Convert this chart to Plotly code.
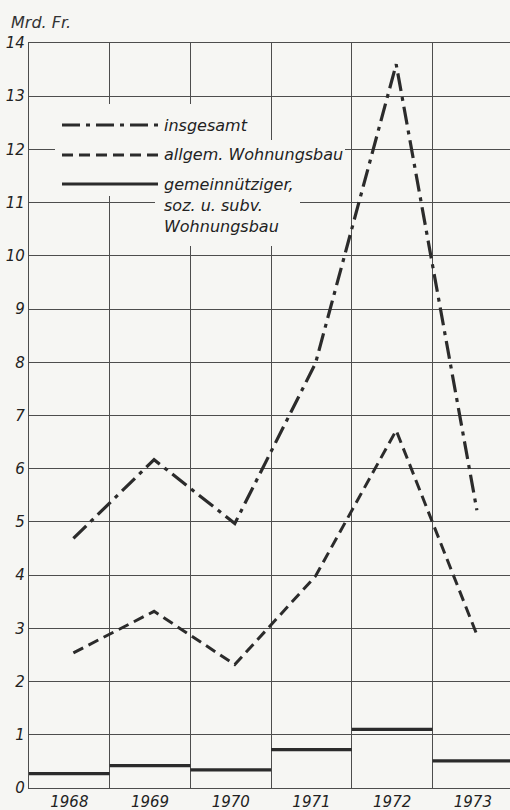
import plotly.graph_objects as go

years = [1968, 1969, 1970, 1971, 1972, 1973]
insgesamt = [4.69, 6.17, 4.97, 7.98, 13.6, 5.22]
allgemein = [2.54, 3.32, 2.32, 3.98, 6.72, 2.88]
gemeinn = [0.27, 0.42, 0.34, 0.72, 1.1, 0.51]
year_labels = [str(y) for y in years]
y_ticks = list(range(0, 15))

BG = "#f6f6f3"
INK = "#2b2b2b"
GRID = "#4d4d4d"
FONT = "DejaVu Sans"

W, H = 510, 810
L, R, T, B = 29, 0, 43, 22
PW, PH = W - L - R, H - T - B

def dx(px):
    return (px - L) / PW

def dy(py):
    return 1 - (py - T) / PH

off = 0.05
fig = go.Figure()

fig.add_trace(go.Scatter(
    x=[y + off for y in years], y=insgesamt, mode="lines", name="insgesamt",
    line=dict(color=INK, width=3.2, dash="18px,6px,4px,6px"), showlegend=False))
fig.add_trace(go.Scatter(
    x=[y + off for y in years], y=allgemein, mode="lines", name="allgem. Wohnungsbau",
    line=dict(color=INK, width=3, dash="11px,6px"), showlegend=False))

sx, sy = [], []
for yr, v in zip(years, gemeinn):
    sx += [yr - 0.5, yr + 0.5, None]
    sy += [v, v, None]
fig.add_trace(go.Scatter(
    x=sx, y=sy, mode="lines", name="gemeinnütziger, soz. u. subv. Wohnungsbau",
    line=dict(color=INK, width=3.2), showlegend=False, connectgaps=False))

# legend background patches (blank out grid behind legend)
shapes = []
for (x0, y0, x1, y1) in [(55, 104, 200, 196), (200, 140, 345, 196), (155, 196, 300, 246)]:
    shapes.append(dict(type="rect", xref="x domain", yref="y domain",
                       x0=dx(x0), x1=dx(x1), y0=dy(y1), y1=dy(y0),
                       fillcolor=BG, line=dict(width=0), layer="above"))

# legend sample lines
leg = [(125, "18px,6px,4px,6px", "insgesamt"),
       (155, "11px,6px", "allgem. Wohnungsbau"),
       (184, "solid", "gemeinnütziger,<br>soz. u. subv.<br>Wohnungsbau")]
annotations = []
for yy, dash, txt in leg:
    shapes.append(dict(type="line", xref="x domain", yref="y domain",
                       x0=dx(62), x1=dx(158), y0=dy(yy), y1=dy(yy),
                       line=dict(color=INK, width=3, dash=dash), layer="above"))
    multi = "<br>" in txt
    annotations.append(dict(xref="x domain", yref="y domain", x=dx(162), y=dy(yy),
                            xanchor="left", yanchor="top" if multi else "middle",
                            yshift=11 if multi else 0,
                            text=txt, showarrow=False, align="left",
                            font=dict(family=FONT, size=16, color="#222", style="italic")))

annotations.append(dict(xref="paper", yref="paper", x=dx(9), y=dy(22),
                        xanchor="left", yanchor="middle", text="Mrd. Fr.", showarrow=False,
                        font=dict(family=FONT, size=16, color="#333", style="italic")))

fig.update_layout(
    width=W, height=H, autosize=False, margin=dict(l=L, r=R, t=T, b=B, pad=0),
    paper_bgcolor=BG, plot_bgcolor=BG,
    shapes=shapes, annotations=annotations, showlegend=False,
    xaxis=dict(range=[1967.5, 1967.5 + PW / 80.7], tickvals=years, ticktext=year_labels,
               showgrid=False, zeroline=False, ticks="", automargin=False,
               showline=True, mirror=True, linecolor=GRID, linewidth=1.3,
               tickfont=dict(family=FONT, size=15, color="#222", style="italic"),
               minor=dict(tickvals=[y - 0.5 for y in years] + [years[-1] + 0.5],
                          showgrid=True, gridcolor=GRID, gridwidth=1.3, ticks="")),
    yaxis=dict(range=[0, 14], tickvals=y_ticks, showgrid=True, gridcolor=GRID, gridwidth=1.3,
               zeroline=False, ticks="", showline=True, linecolor=GRID, linewidth=1.3,
               automargin=False,
               tickfont=dict(family=FONT, size=15, color="#222", style="italic")),
)

fig.write_html("out.html", config={"displayModeBar": False},
               post_script="document.body.style.margin='0';document.body.style.overflow='hidden';")
